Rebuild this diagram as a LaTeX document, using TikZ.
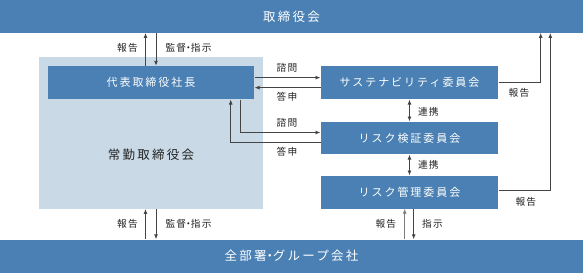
\documentclass[tikz,border=0pt]{standalone}
\usepackage{fontspec}
\setmainfont{Noto Sans CJK JP}[LetterSpace=18]
\newfontfamily\lblfont{Noto Sans CJK JP}[LetterSpace=12]
\usetikzlibrary{arrows.meta,calc}
\definecolor{dblue}{HTML}{4A80B3}
\definecolor{lblue}{HTML}{C9DAE6}
\definecolor{lin}{HTML}{444444}
\definecolor{txt}{HTML}{222222}
\newcommand{\nakaguro}{{\addfontfeatures{RawFeature=+palt}・}}
\begin{document}
\begin{tikzpicture}[x=1pt,y=-1pt,
  bar/.style={fill=dblue,draw=none,minimum width=583pt,inner sep=0pt,text=white,font=\fontsize{12.5}{14}\selectfont},
  box/.style={fill=dblue,draw=none,minimum width=177.6pt,minimum height=33pt,inner sep=0pt,text=white,font=\fontsize{11}{13}\selectfont},
  lbl/.style={text=txt,inner sep=0pt,font=\lblfont\fontsize{9.7}{11}\selectfont},
  arr/.style={draw=lin,line width=0.9pt,-{Latex[length=5pt,width=4pt]}},
  darr/.style={draw=lin,line width=0.9pt,{Latex[length=5pt,width=4pt]}-{Latex[length=5pt,width=4pt]}},
  garr/.style={draw=lin!70,line width=0.9pt,-{Latex[length=5pt,width=4pt]}}]
\useasboundingbox (0,0) rectangle (583,273);
\node[bar,minimum height=32.7pt] (top) at (291.5,16.35) {取締役会};
\node[bar,minimum height=33.5pt] (bot) at (291.5,256.25) {全部署\nakaguro グループ会社};
\node[fill=lblue,draw=none,minimum width=223.7pt,minimum height=151.4pt,inner sep=0pt] (jokin) at (150.85,133) {};
\node[text=txt,inner sep=0pt,font=\fontsize{12.5}{14}\selectfont] (jokinlbl) at (151,155) {常勤取締役会};
\node[box,minimum width=206.6pt,minimum height=33.3pt] (pres) at (151,82.65) {代表取締役社長};
\node[box,minimum height=33.3pt] (sus) at (409.5,82.65) {サステナビリティ委員会};
\node[box,minimum height=32.6pt] (rv) at (409.5,138) {リスク検証委員会};
\node[box,minimum height=32.8pt] (rm) at (409.5,192.1) {リスク管理委員会};
% top <-> president
\draw[arr] ([xshift=-5.5pt]pres.north) -- ([xshift=-5.5pt]pres.north |- top.south);
\draw[arr] ([xshift=5pt]pres.north |- top.south) -- ([xshift=5pt]pres.north);
\node[lbl] (l1) at (127.5,47.7) {報告};
\node[lbl] (l2) at (188.5,47.7) {監督\nakaguro 指示};
% bottom <-> jokin
\draw[arr] ([xshift=-5.5pt]pres.north |- bot.north) -- ([xshift=-5.5pt]pres.north |- jokin.south);
\draw[arr] ([xshift=5pt]pres.north |- jokin.south) -- ([xshift=5pt]pres.north |- bot.north);
\node[lbl] (l3) at (127.5,224.3) {報告};
\node[lbl] (l4) at (188.5,224.3) {監督\nakaguro 指示};
% president <-> sustainability
\draw[arr] ([yshift=5pt]pres.east) -- ([yshift=5pt]pres.east -| sus.west);
\draw[arr] ([yshift=-5pt]sus.west) -- ([yshift=-5pt]sus.west -| pres.east);
\node[lbl] (l5) at (287,67.5) {諮問};
\node[lbl] (l6) at (287,96.3) {答申};
% president <-> risk verification
\coordinate (p1) at (240.7,99.3);
\coordinate (p2) at (230.7,99.3);
\draw[arr] (p1 |- pres.south) |- ([yshift=5.5pt]rv.west);
\draw[arr] ([yshift=-4.5pt]rv.west) -| (p2 |- pres.south);
\node[lbl] (l7) at (287,122.5) {諮問};
\node[lbl] (l8) at (287,152.2) {答申};
% renkei
\draw[darr] (sus.south) -- (rv.north);
\draw[darr] (rv.south) -- (rm.north);
\node[lbl] (l9) at (428.3,111.7) {連携};
\node[lbl] (l10) at (428.3,165) {連携};
% reports to top
\coordinate (r1) at (540.7,0);
\coordinate (r2) at (550.3,0);
\draw[arr] (sus.east) -| (r1 |- top.south);
\draw[arr] ([yshift=1.4pt]rm.east) -| (r2 |- top.south);
\node[lbl] (l11) at (519,93.3) {報告};
\node[lbl] (l12) at (525.8,202.3) {報告};
% rm <-> bottom
\draw[garr] ([xshift=-4.8pt]rm.south |- bot.north) -- ([xshift=-4.8pt]rm.south);
\draw[arr] ([xshift=4.2pt]rm.south) -- ([xshift=4.2pt]rm.south |- bot.north);
\node[lbl] (l13) at (385.8,224) {報告};
\node[lbl] (l14) at (432.5,224) {指示};
\end{tikzpicture}
\end{document}
